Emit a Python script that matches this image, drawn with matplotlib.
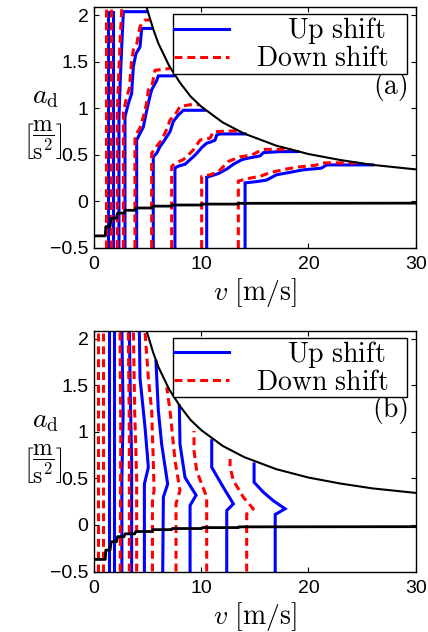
import matplotlib
matplotlib.use('Agg')
import matplotlib.pyplot as plt
from matplotlib.lines import Line2D

plt.rcParams['mathtext.fontset'] = 'cm'
plt.rcParams['font.family'] = ['Liberation Sans', 'DejaVu Sans']

# ---- data ----
# max acceleration curve (same in both panels)
v_max = [4.9, 5.5, 6.0, 7.0, 8.0, 9.0, 10.0, 12.0, 14.0, 17.0, 20.0, 23.0, 26.0, 30.0]
a_max = [2.09, 1.86, 1.70, 1.46, 1.28, 1.13, 1.02, 0.85, 0.73, 0.60, 0.51, 0.445, 0.393, 0.345]

# coasting deceleration line (same in both panels)
v_min = [0, 1.05, 1.1, 1.5, 1.6, 2.1, 2.2, 2.8, 2.9, 3.8, 3.9, 5.4, 5.5, 7.25, 7.3, 10.04, 10.1, 13.46, 13.5, 30]
a_min = [-0.37, -0.37, -0.27, -0.27, -0.18, -0.18, -0.125, -0.125, -0.095, -0.095, -0.07, -0.07,
         -0.05, -0.05, -0.038, -0.038, -0.028, -0.028, -0.02, -0.018]

# (a) up shift lines
up_a_v = [
    [1.34, 1.34],
    [1.8, 1.8],
    [2.33, 2.33, 2.45, 2.6, 2.74, 4.9],
    [2.89, 2.89, 3.2, 3.51, 3.67, 3.92, 4.29, 4.45, 5.45],
    [3.98, 3.98, 4.29, 4.6, 4.92, 5.22, 5.38, 5.85, 6.0, 7.4],
    [5.53, 5.53, 5.85, 6.16, 6.47, 7.09, 7.4, 7.87, 8.33, 10.3],
    [7.55, 7.55, 7.87, 8.49, 8.96, 9.26, 9.73, 10.05, 10.51, 10.98, 11.29, 11.45, 11.75, 14.1],
    [10.51, 10.51, 11.6, 12.4, 13.0, 13.8, 14.55, 15.5, 15.8, 17.35, 19.0],
    [14.09, 14.09, 15.2, 16.1, 17.0, 18.6, 19.5, 21.2, 21.7, 26.0],
]
up_a_a = [
    [-0.5, 2.04],
    [-0.5, 2.04],
    [-0.5, 0.9, 1.3, 1.7, 2.04, 2.04],
    [-0.5, 0.91, 1.05, 1.16, 1.45, 1.59, 1.66, 1.86, 1.86],
    [-0.5, 0.66, 0.73, 0.80, 0.98, 1.13, 1.2, 1.3, 1.35, 1.35],
    [-0.5, 0.48, 0.52, 0.59, 0.64, 0.75, 0.86, 0.93, 0.98, 0.98],
    [-0.5, 0.36, 0.38, 0.40, 0.45, 0.48, 0.536, 0.58, 0.626, 0.643, 0.66, 0.715, 0.726, 0.726],
    [-0.5, 0.26, 0.30, 0.35, 0.40, 0.45, 0.47, 0.49, 0.525, 0.536, 0.536],
    [-0.5, 0.20, 0.214, 0.23, 0.286, 0.32, 0.34, 0.358, 0.393, 0.393],
]

# (a) down shift lines
down_a_v = [
    [1.12, 1.12],
    [1.59, 1.59],
    [2.17, 2.17, 2.3, 2.45, 2.6],
    [2.74, 2.74, 3.0, 3.3, 3.5, 3.67, 4.0, 4.29, 4.76, 5.2],
    [3.82, 3.82, 4.29, 4.6, 4.9, 5.07, 5.38, 5.69, 7.1],
    [5.38, 5.38, 5.69, 6.31, 6.8, 7.09, 7.55, 8.02, 8.96, 9.8],
    [7.24, 7.24, 7.55, 8.33, 8.8, 9.26, 9.89, 10.82, 11.13, 13.4],
    [10.04, 10.04, 10.82, 11.6, 12.06, 12.53, 13.62, 14.71, 15.33, 15.8, 18.4],
    [13.46, 13.46, 14.5, 15.5, 16.4, 18.0, 19.0, 20.7, 21.2, 24.6],
]
down_a_a = [
    [-0.5, 2.09],
    [-0.5, 2.09],
    [-0.5, 0.95, 1.35, 1.75, 2.09],
    [-0.5, 0.95, 1.1, 1.22, 1.5, 1.63, 1.7, 1.88, 1.95, 1.95],
    [-0.5, 0.70, 0.79, 0.91, 1.05, 1.2, 1.23, 1.41, 1.43],
    [-0.5, 0.52, 0.57, 0.66, 0.78, 0.875, 0.93, 1.02, 1.04, 1.04],
    [-0.5, 0.375, 0.41, 0.45, 0.5, 0.554, 0.66, 0.68, 0.75, 0.76],
    [-0.5, 0.27, 0.286, 0.32, 0.375, 0.43, 0.48, 0.50, 0.536, 0.56, 0.56],
    [-0.5, 0.22, 0.25, 0.27, 0.31, 0.35, 0.37, 0.39, 0.415, 0.415],
]

# (b) up shift lines
up_b_v = [
    [1.43, 1.43],
    [1.9, 1.9],
    [2.6, 2.6, 2.72, 2.6],
    [3.51, 3.51, 3.4, 3.3],
    [4.70, 4.70, 5.07, 4.76, 4.29, 4.23],
    [6.41, 6.47, 6.87, 6.31, 6.0, 5.78],
    [8.96, 8.96, 9.52, 8.49, 8.02, 7.96],
    [12.38, 12.38, 13.0, 12.06, 10.98, 10.98],
    [16.9, 16.9, 17.82, 16.7, 15.8, 14.93, 14.93],
]
up_b_a = [
    [-0.5, 2.09],
    [-0.5, 2.09],
    [-0.5, 0.5, 1.2, 2.09],
    [-0.5, 0.7, 1.3, 2.09],
    [-0.5, 0.44, 0.62, 1.05, 1.58, 2.09],
    [-0.5, 0.30, 0.44, 0.87, 1.23, 1.76],
    [-0.5, 0.21, 0.32, 0.51, 0.87, 1.28],
    [-0.5, 0.155, 0.227, 0.405, 0.62, 0.906],
    [-0.5, 0.113, 0.174, 0.263, 0.352, 0.459, 0.656],
]

# (b) down shift lines
down_b_v = [
    [0.33, 0.33],
    [0.81, 0.81],
    [2.45, 2.5, 2.43],
    [3.3, 3.3, 3.2],
    [3.98, 3.98, 3.8, 3.67],
    [5.45, 5.45, 5.6, 5.53, 5.38, 5.07, 4.76],
    [7.65, 7.65, 8.02, 7.56, 7.09, 6.78],
    [10.51, 10.51, 10.51, 9.58, 9.33, 9.33],
    [14.24, 14.24, 14.86, 13.93, 13.0, 12.69, 12.69],
]
down_b_a = [
    [-0.5, 2.09],
    [-0.5, 2.09],
    [-0.5, 1.0, 2.09],
    [-0.5, 1.0, 2.09],
    [-0.5, 0.5, 1.2, 2.09],
    [-0.5, 0.25, 0.37, 0.69, 1.23, 1.58, 2.08],
    [-0.5, 0.23, 0.37, 0.69, 1.23, 1.48],
    [-0.5, 0.155, 0.30, 0.58, 0.80, 1.01],
    [-0.5, 0.12, 0.174, 0.298, 0.477, 0.62, 0.71],
]

x_ticks = [0, 10, 20, 30]
y_ticks = [-0.5, 0, 0.5, 1, 1.5, 2]
y_tick_labels = ['\u22120.5', '0', '0.5', '1', '1.5', '2']

dash = (0, (2.6, 1.6))

fig = plt.figure(figsize=(4.28, 6.32), dpi=100)
ax_a = fig.add_axes([0.2196, 0.6076, 0.7516, 0.3813])
ax_b = fig.add_axes([0.2196, 0.0957, 0.7516, 0.3813])


def draw_panel(ax, up_v, up_a, down_v, down_a, tag):
    for vu, au, vd, ad in zip(up_v, up_a, down_v, down_a):
        ax.plot(vu, au, color='blue', lw=2.2, solid_joinstyle='miter')
        ax.plot(vd, ad, color='red', lw=2.2, linestyle=dash)
    ax.plot(v_max, a_max, color='black', lw=1.5)
    ax.plot(v_min, a_min, color='black', lw=2.0)

    ax.set_xlim(0, 30)
    ax.set_ylim(-0.5, 2.09)
    ax.set_xticks(x_ticks)
    ax.set_xticklabels([str(t) for t in x_ticks])
    ax.set_yticks(y_ticks)
    ax.set_yticklabels(y_tick_labels)
    ax.tick_params(direction='in', top=True, right=True, length=3.5, width=0.8,
                   labelsize=14)
    ax.tick_params(axis='x', pad=6)
    ax.tick_params(axis='y', pad=4)
    for s in ax.spines.values():
        s.set_linewidth(1.0)
    ax.set_xlabel(r'$v\ [\mathrm{m/s}]$', fontsize=20, labelpad=2)

    handles = [Line2D([], [], color='blue', lw=2.2),
               Line2D([], [], color='red', lw=2.2, linestyle=dash)]
    leg = ax.legend(handles, [r'$\mathrm{\quad\;Up\ shift}$', r'$\mathrm{Down\ shift}$'],
                    loc='upper left', bbox_to_anchor=(0.2456, 0.747, 0.7274, 0.224),
                    mode='expand', fontsize=20,
                    handlelength=1.95, handletextpad=1.0, borderpad=0.05,
                    labelspacing=0.0, borderaxespad=0, fancybox=False, framealpha=1)
    leg.get_frame().set_edgecolor('black')
    leg.get_frame().set_linewidth(1.0)
    ax.text(0.979, 0.672, tag, transform=ax.transAxes, ha='right', va='center',
            fontsize=20, family='cmr10')


draw_panel(ax_a, up_a_v, up_a_a, down_a_v, down_a_a, '(a)')
draw_panel(ax_b, up_b_v, up_b_a, down_b_v, down_b_a, '(b)')

for yc in (0, 324):
    fig.text(45 / 428, 1 - (97 + yc) / 632, r'$a_\mathrm{d}$', ha='center', va='center', fontsize=20)
    fig.text(43 / 428, 1 - (140 + yc) / 632, r'$\left[\dfrac{\mathrm{m}}{\mathrm{s}^2}\right]$',
             ha='center', va='center', fontsize=17)

fig.savefig('out.png', dpi=100)
